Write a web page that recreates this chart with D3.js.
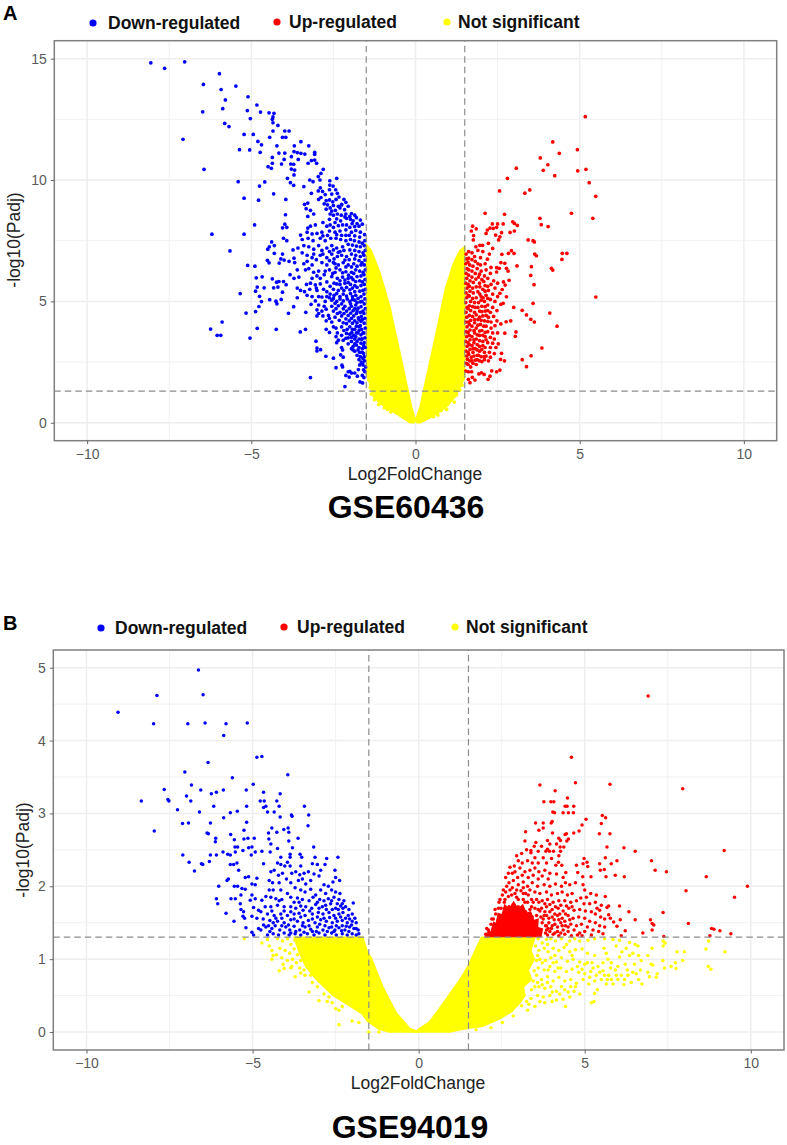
<!DOCTYPE html>
<html><head><meta charset="utf-8"><style>html,body{margin:0;background:#fff}svg{display:block}text{font-family:"Liberation Sans",Arial,sans-serif}</style>
<script src="https://cdnjs.cloudflare.com/ajax/libs/d3/7.8.5/d3.min.js"></script></head><body><svg id="c" width="787" height="1145"></svg>
<script>
const legendLabels=["Down-regulated","Up-regulated","Not significant"];
const xTicks=[-10,-5,0,5,10], xMinor=[-7.5,-2.5,2.5,7.5];
const yTicksA=[0,5,10,15], yMinorA=[2.5,7.5,12.5];
const yTicksB=[0,1,2,3,4,5], yMinorB=[.5,1.5,2.5,3.5,4.5];
const vCut=[-1.5,1.5], hCut=1.301;
// dense yellow masses, outlines
const yellowA1=[[-1.5,7.35],[-1.35,7.1],[-1.08,6.17],[-.78,4.77],[-.47,2.86],[-.12,.65],[0,.1],[-.05,0],[-.17,0],[-.57,.36],[-1.08,.8],[-1.29,1.1],[-1.48,2]];
const yellowA2=[[1.5,7.25],[1.35,7.1],[1.15,6.55],[.9,5.47],[.65,3.82],[.38,2.17],[.14,.66],[0,.1],[.05,0],[.15,0],[.44,.2],[.9,.6],[1.2,1.05],[1.5,1.85]];
const yellowB1=[[-1.68,1.3],[-1.53,1.08],[-1.43,1.02],[-1.08,.62],[-.67,.26],[-.27,.05],[0,0],[-.9,0],[-1.2,.04],[-1.55,.15],[-1.7,.25],[-2.08,.36],[-2.57,.5],[-3.08,.72],[-3.4,.9],[-3.6,1.1],[-3.75,1.3]];
const yellowB2=[[1.89,1.3],[1.48,.9],[1.23,.71],[.73,.39],[.33,.14],[0,.04],[-.1,0],[.93,0],[1.48,.05],[1.93,.08],[2.44,.18],[2.8,.28],[3.05,.4],[3.2,.5],[3.15,.62],[3.4,.72],[3.3,.85],[3.48,1],[3.38,1.12],[3.5,1.3]];
const redCoreB=[[1.98,1.3],[2.1,1.4],[2.16,1.38],[2.25,1.52],[2.32,1.5],[2.38,1.64],[2.5,1.62],[2.58,1.76],[2.72,1.7],[2.86,1.8],[3,1.7],[3.14,1.76],[3.25,1.64],[3.38,1.66],[3.48,1.54],[3.62,1.56],[3.6,1.44],[3.75,1.42],[3.7,1.3]];
const blueA=[[-8.06,14.83],[-7.64,14.6],[-7.03,14.87],[-5.97,14.38],[-6.46,13.94],[-5.47,13.87],[-5.92,13.73],[-5.79,13.3],[-5.1,13.43],[-6.48,12.81],[-5.87,12.94],[-5.12,12.86],[-4.83,13.09],[-4.72,12.8],[-4.46,12.77],[-4.31,12.75],[-4.34,12.6],[-4.36,12.5],[-4.34,12.36],[-5.03,12.53],[-5.81,12.33],[-5.68,12.2],[-4.19,12.25],[-4.34,12.02],[-3.98,12.02],[-3.85,12.02],[-7.08,11.68],[-5.22,11.88],[-4.94,11.88],[-4.44,11.76],[-4.05,11.76],[-3.95,11.76],[-4.8,11.59],[-4.69,11.45],[-3.49,11.58],[-3.69,11.41],[-3.25,11.41],[-4.22,11.41],[-5.36,11.25],[-5.05,11.24],[-4.73,11.14],[-4.16,11.11],[-3.98,11.11],[-3.7,11.17],[-3.6,11.13],[-3.49,11.1],[-3.37,11.07],[-3.07,11.14],[-3.07,11.06],[-4.36,10.93],[-3.78,10.96],[-4,10.85],[-3.57,10.85],[-3.17,10.8],[-3.07,10.82],[-3.27,10.69],[-3.01,10.69],[-4.36,10.69],[-4.08,10.66],[-3.8,10.66],[-3.71,10.65],[-4.49,10.55],[-4.39,10.48],[-2.81,10.44],[-6.44,10.44],[-3.78,10.45],[-3.68,10.41],[-3.7,10.21],[-2.88,10.27],[-2.96,10.14],[-3.9,10.07],[-3.22,10],[-3.12,9.93],[-2.91,10],[-2.61,9.97],[-2.4,10.07],[-5.4,9.93],[-4.59,9.92],[-4.75,9.75],[-3.81,9.89],[-3.71,9.78],[-3.4,9.73],[-2.61,9.79],[-2.51,9.75],
[-2.9,9.68],[-2.96,9.55],[-2.83,9.53],[-2.62,9.6],[-2.43,9.6],[-2.38,9.45],[-3.17,9.45],[-4.32,9.43],[-2.75,9.4],[-2.55,9.42],[-2.33,9.3],[-2.88,9.28],[-2.95,9.2],[-5.22,9.25],[-4.78,9.17],[-3.95,9.2],[-2.72,9.15],[-2.62,9.18],[-2.52,9.1],[-2.42,9.2],[-2.18,9.2],[-2.12,9.08],[-3.38,9],[-3.28,9.05],[-2.78,9.02],[-2.68,8.98],[-2.5,8.95],[-2.25,8.97],[-2.05,8.92],[-3.33,8.82],[-3.2,8.75],[-2.44,8.75],[-2.3,8.85],[-2.16,8.78],[-3.96,8.57],[-3.28,8.5],[-3.1,8.6],[-2.6,8.6],[-2.5,8.55],[-2.38,8.6],[-2.26,8.55],[-2.12,8.6],[-1.95,8.62],[-1.85,8.55],[-2.62,8.38],[-2.4,8.4],[-2.28,8.32],[-2.1,8.42],[-1.98,8.38],[-1.8,8.45],[-1.68,8.35],[-4.9,8.15],[-3.98,8.18],[-3.92,8.05],[-4.05,8.03],[-3.28,8.02],[-3.2,8.1],[-2.6,8.15],[-2.5,8.05],[-2.35,8.12],[-2.22,8.15],[-2.1,8.15],[-1.93,8.2],[-1.78,8.2],[-1.62,8.18],[-6.2,7.77],[-5.22,7.77],[-3.5,7.73],[-3.3,7.85],[-3.15,7.78],[-3,7.8],[-2.85,7.85],[-2.62,7.9],[-2.45,7.85],[-2.3,7.9],[-2.12,7.95],[-4.02,7.6],[-3.92,7.5],[-3.45,7.55],[-3.27,7.6],[-3.12,7.5],[-2.9,7.6],[-2.75,7.5],[-2.58,7.6],[-2.42,7.6],[-2.28,7.55],[-2.12,7.5],
[-4.38,7.45],[-4.3,7.3],[-4.45,7.25],[-4.5,7.15],[-3.73,7.12],[-3.58,7.2],[-3.45,7],[-3.25,7.25],[-3.1,7.15],[-2.95,7.3],[-2.7,7.2],[-2.55,7.3],[-2.4,7.2],[-2.22,7.25],[-5.65,7.08],[-4.05,6.95],[-4.3,6.98],[-3.3,6.9],[-3.15,6.8],[-2.9,6.9],[-2.7,6.8],[-2.55,6.95],[-2.38,6.85],[-2.25,6.9],[-2.1,6.85],[-1.95,6.95],[-5.11,6.48],[-4.89,6.45],[-4.51,6.69],[-4.46,6.59],[-4.1,6.75],[-4,6.7],[-4.15,6.58],[-3.85,6.65],[-3.7,6.78],[-3.68,6.6],[-3.4,6.55],[-3.3,6.65],[-3.15,6.5],[-3.02,6.72],[-2.85,6.6],[-2.7,6.5],[-2.5,6.6],[-2.35,6.5],[-2.2,6.6],[-2.05,6.5],[-1.88,6.55],[-3.6,6.3],[-3.35,6.3],[-3.25,6.35],[-2.95,6.25],[-2.62,6.3],[-2.45,6.2],[-2.3,6.3],[-2.12,6.22],[-1.95,6.2],[-1.82,6.3],[-4.85,5.97],[-4.67,6.01],[-4.36,5.93],[-3.82,6.1],[-3.7,5.95],[-3.55,6],[-3.15,5.95],[-3,6.05],[-2.78,6.1],[-2.55,6.02],[-2.38,5.95],[-2.22,6],[-2.05,5.95],[-1.9,5.9],[-4.23,5.79],[-4.16,5.82],[-4.02,5.82],[-3.94,5.69],[-3.32,5.7],[-3.2,5.75],[-3.05,5.68],[-2.9,5.72],[-2.7,5.8],[-2.48,5.75],[-2.3,5.7],[-2.15,5.75],[-1.98,5.7],[-1.85,5.65],[-4.82,5.59],[-4.61,5.56],[-4.32,5.56],[-4.19,5.59],[-3.6,5.55],[-3.5,5.45],[-3.38,5.4],[-3.22,5.5],[-3,5.45],[-2.8,5.5],[-2.7,5.4],[-2.5,5.5],[-2.35,5.45],[-2.18,5.45],[-2,5.48],[-1.85,5.4],[-4.87,5.42],[-4.05,5.38],[-5.34,5.32],[-3.3,5.25],[-3.15,5.2],[-2.95,5.2],[-2.7,5.2],[-2.48,5.25],[-2.3,5.2],[-2.1,5.22],[-1.92,5.2],[-4.75,5.21],[-4.44,5.07],[-4.09,5.08],[-3.6,5.15],[-2.75,5],[-2.55,5.05],[-2.4,5],[-2.2,5.02],[-2,5],[-1.85,5.05],[-4.69,4.99],[-4.25,5.01],[-4.22,4.9],[-3.18,4.88],[-2.95,4.85],[-2.78,4.8],[-2.55,4.8],[-2.35,4.82],[-2.15,4.8],[-1.95,4.8],[-1.82,4.85],[-4.77,4.79],[-3.71,4.78],[-3,4.65],[-2.85,4.6],[-2.72,4.68],[-2.5,4.6],[-2.3,4.55],[-2.1,4.6],[-1.9,4.62],[-4.87,4.58],[-5.16,4.52],[-3.87,4.51],[-3.34,4.55],[-3,4.4],[-2.82,4.4],[-2.65,4.42],[-2.45,4.35],[-2.25,4.4],[-2.05,4.42],[-1.88,4.4],[-1.8,4.5],
[-5.89,4.15],[-6.24,3.86],[-6.04,3.6],[-5.93,3.6],[-5.04,3.49],[-4.82,3.89],[-4.24,3.85],[-3.51,3.74],[-3.35,3.85],[-2.72,4.2],[-2.55,4.15],[-2.32,4.22],[-2.2,4.12],[-2.02,4.2],[-1.85,4.2],[-1.72,4.25],[-2.72,3.85],[-2.42,3.9],[-2.25,3.95],[-2.18,3.8],[-2,3.95],[-1.85,3.85],[-1.72,3.95],[-2.25,3.6],[-2.38,3.7],[-2,3.65],[-1.88,3.6],[-1.75,3.7],[-2.35,3.4],[-2.2,3.4],[-1.95,3.35],[-1.85,3.45],[-1.72,3.45],[-3.03,3.36],[-3,3.08],[-2.89,3.01],[-3,2.96],[-2.4,3.3],[-2.25,3.1],[-2.22,3],[-1.9,3.15],[-1.8,3.2],[-1.72,3.1],[-1.62,3.05],[-1.9,3],[-1.85,2.95],[-1.7,2.9],[-1.58,2.85],[-2.73,2.74],[-2.5,2.66],[-2.28,2.8],[-2.2,2.7],[-1.68,2.72],[-1.6,2.65],[-1.72,2.6],[-1.55,2.55],[-1.65,2.5],[-2.42,2.27],[-2.24,2.37],[-2.22,2.3],[-1.6,2.38],[-1.52,2.3],[-3.2,1.86],[-2.15,1.49],[-2.05,2.1],[-1.95,2.05],[-1.74,2.19],[-1.77,1.92],[-1.69,1.68],[-1.61,1.64],[-1.57,1.86],[-1.54,2.1],[-2,2.12],[-1.85,2.05],[-1.62,1.95],
[-1.55,7.75],[-1.68,7.85],[-1.82,7.92],[-1.95,7.85],[-2.02,7.72],[-1.7,7.65],[-1.85,7.7],[-1.98,7.55],[-1.72,7.45],[-1.86,7.5],[-2.05,7.35],[-1.68,7.25],[-1.8,7.28],[-1.92,7.32],[-2.18,7.1],[-1.72,7.05],[-1.85,7.1],[-2,7.12],[-2.35,7.02],[-1.68,6.85],[-1.82,6.9],[-2.02,6.72],[-1.72,6.68],[-1.85,6.75],[-2.15,6.7],[-2.48,6.75],[-2.62,6.68],[-1.66,6.5],[-1.78,6.45],[-1.95,6.42],[-2.12,6.42],[-2.42,6.38],[-1.7,6.25],[-1.88,6.15],[-2.04,6.08],[-2.22,6.18],[-2.52,6.15],[-1.66,6.05],[-1.78,6.02],[-1.95,5.98],[-2.15,5.88],[-2.3,5.85],[-1.7,5.85],[-1.82,5.82],[-2.05,5.78],[-2.4,5.72],[-2.6,5.62],[-1.66,5.65],[-1.78,5.58],[-1.92,5.55],[-2.1,5.58],[-2.25,5.55],[-1.7,5.42],[-1.82,5.25],[-1.98,5.32],[-2.2,5.3],[-2.4,5.32],[-2.6,5.3],[-1.66,5.2],[-1.75,5.12],[-1.92,5.08],[-2.08,5.1],[-2.3,5.1],[-2.5,5.12],[-1.68,4.98],[-1.78,4.95],[-1.98,4.9],[-2.25,4.9],[-2.45,4.92],[-1.66,4.78],[-1.75,4.72],[-1.85,4.7],[-2.02,4.7],[-2.2,4.7],[-2.42,4.7],[-1.68,4.55],[-1.78,4.6],[-1.97,4.52],[-2.18,4.5],[-2.38,4.5],[-1.65,4.38],[-1.74,4.32],[-1.95,4.3],[-2.12,4.28],[-1.66,4.18],[-1.78,4.12],[-1.92,4.1],[-2.1,4.08],[-1.68,4],[-1.8,3.98],[-1.92,3.85],[-2.08,3.85],[-1.64,3.85],[-1.72,3.8],[-1.8,3.7],[-1.94,3.72],[-2.1,3.68],[-1.66,3.62],[-1.82,3.55],[-1.95,3.52],[-2.12,3.48],[-1.64,3.45],[-1.78,3.35],[-1.66,3.28],[-2.05,3.25],[-1.85,3.25],[-1.95,3.05],[-1.58,3.18],[-1.75,3],[-1.62,2.9],[-1.78,2.78],[-1.56,2.72],[-1.62,2.45],[-1.7,2.38],[-1.58,2.18],[-2.02,1.88],[-2.12,1.95],[-2.25,9],[-2.35,8.92],[-2.6,8.85],[-2.72,8.8],[-2.55,8.72],[-2.15,8.48],[-2,8.5],[-1.9,8.32],[-1.72,8.1],[-1.85,8.08],[-2,8.05],[-2.45,8.25],[-2.7,8.1],[-2.82,8.25],[-3.05,8.15],[-2.4,7.75],[-2.25,7.72],[-2.12,7.72],[-2.82,7.7],[-2.68,7.72],[-3.4,7.3],[-2.85,7.1],[-2.62,7.05],[-2.5,7.12],[-2.3,7.05],[-3.1,6.95],[-2.82,6.95],[-2.45,6.55],[-2.75,6.25],[-3.1,6.2],[-2.9,5.95],[-3.02,5.55],[-2.62,5.15],[-2.85,5.18],[-3.05,5.02],[-2.95,4.5],[-2.62,4.3],[-2.5,3.95],[-2.62,3.72],[-2.05,3.5],[-2.42,3.55],
[-1.54,7.5],[-1.56,7.3],[-1.53,7.1],[-1.57,6.9],[-1.54,6.7],[-1.56,6.5],[-1.53,6.3],[-1.57,6.1],[-1.54,5.9],[-1.56,5.7],[-1.53,5.5],[-1.57,5.3],[-1.54,5.1],[-1.56,4.9],[-1.53,4.7],[-1.57,4.5],[-1.54,4.3],[-1.56,4.1],[-1.53,3.9],[-1.57,3.7],[-1.54,3.5],[-1.56,3.3],[-1.53,3.1],[-1.62,7.4],[-1.6,7],[-1.63,6.6],[-1.6,6.2],[-1.62,5.8],[-1.6,5.45],[-1.63,5],[-1.6,4.6],[-1.62,4.25],[-1.6,3.7],[-1.63,3.45]];
const redA=[[5.17,12.61],[4.18,11.57],[4.93,11.25],[4.38,11.1],[3.8,10.91],[4.03,10.63],[3.89,10.4],[3.07,10.49],[4.94,10.38],[5.19,10.44],[4.24,10.18],[2.8,10.07],[5.29,9.89],[2.56,9.55],[3.48,9.59],[3.33,9.46],[5.49,9.33],[2.12,8.63],[2.71,8.59],[4.75,8.63],[3.79,8.42],[5.4,8.42],[3.83,8.16],[4.04,8.08],[2.96,8.28],[3.01,8.21],[3.1,8.13],[2.67,8.19],[2.5,8.19],[2.34,8.19],[3.01,7.9],[2.88,7.84],[3.43,7.53],[3.58,7.5],[3.62,7.45],[2.62,7.83],[1.74,8.1],[1.85,7.99],[1.7,7.9],[1.77,7.71],[1.76,7.53],[2.19,7.94],[2.27,8.02],[2.37,8.01],[2.47,8.05],[2.15,7.8],[2.44,7.73],[2.53,7.53],[2.57,7.66],[2.22,7.39],[2.04,7.31],[1.96,7.31],[2.35,7.18],[1.84,7.25],[2.92,7.09],[2.83,6.98],[3,6.98],[2.63,6.94],[3.63,6.95],[3.68,6.88],[4.47,6.98],[4.61,6.98],[4.46,6.73],[2.25,6.95],[2.19,6.74],[2.6,6.6],[2.72,6.57],[3.09,6.46],[3.53,6.43],[2.77,6.36],[2.82,6.25],[2.47,6.39],[2.55,6.36],[2.47,6.21],[4.14,6.36],[4.18,6.29],[3.51,6.07],[2.85,5.87],[3.61,5.69],[2.68,5.8],[2.73,5.67],[2.64,5.49],[2.57,5.33],[2.77,5.19],[5.49,5.18],[3.58,4.92],[2.67,4.92],[2.6,4.88],[2.99,4.75],[3.25,4.63],[3.38,4.44],[4.09,4.52],[3.51,4.26],[3.62,4.15],[2.9,4.2],[2.76,4.16],[2.6,4.07],[4.31,3.98],[3.06,3.74],[2.72,3.69],[3.04,3.56],[3.85,3.08],[3.52,2.76],[3.25,2.6],[2.71,2.55],[2.59,2.61],[2.62,2.86],[3.38,2.31],[2.57,2.17],[2.47,2.1],[2.32,2.14],[2.27,1.92],[2.21,1.79],[2.01,2.06],[1.93,2.01],[2.09,1.99],[1.71,2.1],[1.61,2.1],[1.53,2.13],[1.61,1.79],[1.66,1.65],[1.81,1.76],[1.73,1.87],
[1.9,7.1],[2.05,7.05],[1.8,6.85],[1.98,6.8],[2.12,6.55],[1.9,6.55],[2.3,6.4],[2.15,6.3],[2,6.25],[1.88,6.35],[2.28,6.15],[2.1,6.05],[1.92,6],[1.82,6.15],[2.02,5.9],[2.2,5.95],[2.38,5.85],[2.5,5.75],[1.95,5.75],[2.12,5.65],[2.3,5.7],[1.85,5.6],[2.42,5.55],[2.22,5.45],[2.05,5.5],[1.9,5.4],[2.35,5.3],[2.5,5.2],[2.15,5.25],[2,5.2],[1.85,5.15],[2.28,5.08],[2.42,5],[2.1,5],[1.92,4.95],[2.02,4.8],[2.2,4.85],[2.35,4.75],[2.48,4.62],[1.82,4.75],[1.95,4.6],[2.12,4.6],[2.28,4.55],[1.85,4.45],[2.05,4.4],[2.22,4.35],[2.38,4.38],[2.48,4.2],[1.9,4.25],[2.1,4.2],[2.3,4.15],[1.8,4.12],[1.98,4.05],[2.15,3.98],[2.42,4],[2.3,3.9],[1.85,3.9],[2.02,3.8],[2.2,3.75],[2.35,3.7],[2.5,3.7],[1.8,3.7],[1.95,3.6],[2.12,3.55],[2.28,3.52],[2.4,3.45],[1.85,3.45],[2.05,3.35],[2.2,3.3],[2.35,3.28],[1.78,3.3],[1.95,3.15],[2.12,3.1],[2.28,3.1],[2.45,3.1],[2.52,3.25],[1.82,3.05],[1.95,2.95],[2.1,2.9],[2.25,2.9],[2.4,2.85],[1.75,2.9],[1.88,2.78],[2,2.72],[2.15,2.75],[2.28,2.7],[1.7,2.7],[1.82,2.58],[1.95,2.55],[2.1,2.6],[2.22,2.55],[1.65,2.55],[1.75,2.45],[1.55,2.45],[1.68,2.3],
[1.62,7.05],[1.72,7],[1.62,6.78],[1.72,6.72],[1.82,6.65],[1.65,6.5],[1.75,6.45],[1.98,6.5],[1.62,6.3],[1.72,6.25],[1.95,6.12],[1.62,6.08],[1.72,6],[1.84,5.92],[1.66,5.85],[1.76,5.78],[2.08,5.82],[1.64,5.62],[1.74,5.55],[1.96,5.6],[2.12,5.42],[1.66,5.42],[1.76,5.35],[1.96,5.3],[2.2,5.62],[1.64,5.22],[1.74,5.12],[2.06,5.15],[1.68,5],[1.8,4.95],[2,5.05],[2.2,5.12],[1.64,4.82],[1.74,4.78],[1.9,4.75],[2.12,4.78],[1.68,4.62],[1.8,4.55],[2.02,4.58],[2.2,4.62],[1.64,4.42],[1.74,4.38],[1.95,4.35],[2.15,4.42],[1.68,4.22],[1.8,4.25],[2,4.22],[2.2,4.18],[1.64,4.05],[1.72,3.98],[1.9,4.02],[2.08,3.98],[1.66,3.82],[1.78,3.8],[1.95,3.78],[2.12,3.72],[1.64,3.6],[1.72,3.55],[1.88,3.62],[2.05,3.6],[1.66,3.42],[1.78,3.42],[1.95,3.38],[2.15,3.42],[1.64,3.22],[1.72,3.18],[1.88,3.22],[2.05,3.18],[1.66,3.02],[1.76,3.05],[1.88,3],[2.02,3.02],[1.62,2.82],[1.78,2.75],[1.92,2.78],[2.1,2.72],[1.58,2.62],[1.72,2.55],[1.88,2.6],[2.02,2.52],[1.6,2.4],[1.85,2.4],
[1.54,6.95],[1.56,6.75],[1.53,6.55],[1.57,6.35],[1.54,6.15],[1.56,5.95],[1.53,5.75],[1.57,5.55],[1.54,5.35],[1.56,5.15],[1.53,4.95],[1.57,4.75],[1.54,4.55],[1.56,4.35],[1.53,4.15],[1.57,3.95],[1.54,3.75],[1.56,3.55],[1.53,3.35],[1.57,3.15],[1.54,2.95],[1.56,2.75],[1.6,6.62],[1.6,5.7],[1.61,5.25],[1.6,4.7],[1.61,4.15],[1.6,3.72],[1.6,3.3],[1.6,2.9]];
const yellowScatterA=[[-1.42,1.75],[-1.38,1.45],[-1.35,1.18],[-1.25,.95],[-1.12,.75],[-1.05,.8],[-.95,.62],[-.85,.55],[-.75,.45],[-1.3,1.28],[-1.2,1.1],[1.42,1.55],[1.35,1.35],[1.25,1.15],[1.1,1],[1.18,.85],[.98,.75],[.95,.55],[.78,.5],[.68,.32],[.55,.25],[-1.45,2.3],[-1.46,2.9],[1.45,2.1]];
const blueB=[[-6.63,4.97],[-7.88,4.62],[-6.49,4.63],[-9.05,4.39],[-7.98,4.23],[-6.95,4.23],[-6.43,4.24],[-5.8,4.23],[-5.16,4.24],[-5.87,4.07],[-4.87,3.77],[-4.72,3.78],[-6.34,3.7],[-7.04,3.57],[-3.94,3.53],[-5.61,3.49],[-4.98,3.4],[-6.84,3.39],[-7.66,3.33],[-6.56,3.32],[-5.88,3.32],[-5.19,3.32],[-6.24,3.27],[-6.09,3.29],[-4.67,3.29],[-4.17,3.27],[-6.99,3.24],[-8.35,3.17],[-7.55,3.19],[-7.52,3.17],[-6.86,3.17],[-4.77,3.17],[-4.65,3.17],[-4.27,3.17],[-6.17,3.1],[-5.18,3.1],[-4.6,3.1],[-4.67,3.08],[-4.2,3.1],[-3.44,3.1],[-7.26,3.05],[-6.6,3.02],[-5.67,3.01],[-5.46,3.03],[-4.55,3.02],[-4.35,3.02],[-3.31,2.98],[-3.83,2.98],[-3.81,2.96],[-5.87,2.94],[-4.17,2.95],[-6.27,2.87],[-5.18,2.88],[-7.11,2.86],[-6.93,2.87],[-3.33,2.83],[-3.93,2.8],[-4.42,2.8],[-4.06,2.78],[-5.26,2.77],[-7.96,2.76],[-3.91,2.74],[-4.52,2.73],[-4.27,2.74],[-6.37,2.73],[-6.33,2.72],[-5.66,2.71],[-6.11,2.66],[-6.12,2.61],[-5.55,2.64],[-5.26,2.65],[-5.14,2.66],[-4.95,2.66],[-4.51,2.65],[-3.63,2.66],[-3.91,2.62],[-4.45,2.58],[-5.53,2.54],[-5.45,2.54],[-5.12,2.53],[-5.02,2.54],[-3.8,2.53],[-4.25,2.52],[-3.16,2.54],[-5.29,2.49],[-5.89,2.47],[-5.52,2.47],[-4.92,2.47],[-4.72,2.48],[-4.47,2.47],[-7.1,2.43],[-6.27,2.43],[-6.09,2.43],[-5.75,2.44],[-5.67,2.43],[-5.04,2.43],[-3.87,2.44],[-3.57,2.44],[-4.15,2.4],[-3.87,2.4],[-3.52,2.4],[-3.12,2.4],[-2.77,2.38],[-2.43,2.4],
[-6.91,2.33],[-6.75,2.21],[-6.54,2.31],[-6.5,2.3],[-6.3,2.34],[-5.67,2.3],[-5.57,2.3],[-5.47,2.32],[-5.42,2.22],[-6.02,2],[-5.73,2.1],[-5.77,2.08],[-5.55,2],[-5.45,2],[-5.22,2.12],[-5.12,2.13],[-4.87,2.11],[-5.02,2.03],[-4.92,2.02],[-4.67,2.31],[-5.32,1.97],[-5.22,1.96],[-6.09,1.83],[-6.05,1.76],[-5.8,1.63],[-5.65,1.83],[-5.52,1.83],[-5.35,1.88],[-5.37,1.76],[-5.35,1.68],[-5.27,1.65],[-5.56,1.52],[-5.29,1.59],[-5.24,1.56],[-5.2,1.43],[-5.02,1.88],[-5.07,1.81],[-4.92,1.83],[-4.72,1.81],[-4.97,1.71],[-4.82,1.67],[-5.02,1.59],[-4.87,1.56],[-5.02,1.37],[-4.97,1.33],[-4.82,1.42],[-4.67,1.47],
[-4.25,2.32],[-4.15,2.3],[-4.03,2.28],[-3.95,2.33],[-3.87,2.28],[-3.55,2.28],[-3.2,2.31],[-3.05,2.3],[-2.95,2.22],[-2.82,2.3],[-2.52,2.22],[-4.45,2.2],[-4.35,2.22],[-4.22,2.15],[-4.1,2.18],[-3.82,2.18],[-3.7,2.2],[-3.58,2.16],[-3.45,2.18],[-3.32,2.2],[-3.15,2.17],[-3,2.14],[-2.5,2.12],[-2.38,2.08],[-4.5,2.08],[-4.4,2.05],[-4.2,2.05],[-3.98,2.1],[-3.85,2.05],[-3.62,2.08],[-3.5,2.1],[-3.4,2.03],[-3.25,2.08],[-2.85,2.02],[-2.72,2],[-2.58,2.06],[-4.5,1.95],[-4.38,1.95],[-4.15,1.95],[-3.95,1.9],[-3.72,1.98],[-3.55,1.95],[-3.42,1.92],[-3.25,1.96],[-3.1,1.88],[-2.95,1.95],[-2.8,1.9],[-2.62,1.95],[-2.5,1.92],[-2.37,1.9],[-4.6,1.86],[-4.45,1.85],[-4.3,1.83],[-4.12,1.82],[-3.85,1.85],[-3.65,1.84],[-3.5,1.82],[-3.3,1.8],[-3.18,1.85],[-2.98,1.82],[-2.72,1.83],[-2.55,1.85],[-2.4,1.82],[-2.25,1.8],[-1.97,1.77],[-2.2,1.72],[-2.35,1.73],[-2.5,1.7],[-2.65,1.76],[-2.8,1.74],[-2.9,1.72],[-3.1,1.75],[-3.22,1.7],[-3.4,1.72],[-3.55,1.73],[-3.7,1.7],[-3.85,1.72],[-4.05,1.72],[-4.25,1.74],[-4.45,1.72],[-4.62,1.72],[-4.75,1.65],[-4.55,1.62],[-4.35,1.6],[-4.15,1.62],[-3.95,1.6],[-3.75,1.62],[-3.6,1.63],[-3.42,1.6],[-3.2,1.62],[-3.02,1.64],[-2.88,1.62],[-2.7,1.64],[-2.55,1.6],[-2.4,1.62],[-2.28,1.64],[-2.12,1.6],[-2,1.62],[-4.68,1.55],[-4.48,1.53],[-4.25,1.52],[-4.05,1.5],[-3.85,1.54],[-3.65,1.52],[-3.48,1.5],[-3.32,1.53],[-3.12,1.5],[-2.95,1.54],[-2.78,1.52],[-2.6,1.5],[-2.45,1.52],[-2.3,1.53],[-2.15,1.5],[-2,1.52],[-1.88,1.5],[-4.75,1.4],[-4.6,1.44],[-4.42,1.42],[-4.32,1.46],[-4.18,1.4],[-4,1.44],[-3.88,1.4],[-3.75,1.45],[-3.58,1.4],[-3.42,1.44],[-3.25,1.41],[-3.05,1.44],[-2.88,1.4],[-2.7,1.43],[-2.52,1.4],[-2.4,1.43],[-2.22,1.4],[-2.08,1.44],[-1.95,1.42],[-1.82,1.4],[-4.55,1.33],[-4.38,1.35],[-4.22,1.33],[-4.05,1.36],[-3.9,1.33],[-3.72,1.35],[-3.55,1.33],[-3.35,1.35],[-3.15,1.33],[-3,1.36],[-2.82,1.33],[-2.62,1.36],[-2.48,1.33],[-2.3,1.35],[-2.15,1.33],[-2,1.35],[-1.88,1.33],[-1.8,1.35],
[-4.52,1.46],[-4.38,1.5],[-4.12,1.46],[-3.92,1.47],[-3.7,1.38],[-3.5,1.46],[-3.3,1.46],[-3.2,1.38],[-2.98,1.48],[-2.82,1.46],[-2.62,1.44],[-2.48,1.46],[-2.3,1.46],[-2.18,1.45],[-2.02,1.47],[-1.88,1.42],[-4.48,1.38],[-3.85,1.36],[-3.45,1.37],[-3.08,1.38],[-2.75,1.38],[-2.55,1.38],[-2.32,1.39],[-2.1,1.38],[-4.3,1.56],[-4.12,1.56],[-3.75,1.55],[-3.55,1.58],[-3.2,1.55],[-3.05,1.58],[-2.85,1.56],[-2.68,1.57],[-2.5,1.56],[-2.35,1.58],[-2.2,1.56],[-2.08,1.55],[-1.92,1.56],[-4.42,1.66],[-4.05,1.66],[-3.85,1.65],[-3.48,1.67],[-3.28,1.66],[-3,1.7],[-2.78,1.68],[-2.6,1.68],[-2.42,1.68],[-2.28,1.7],[-2.1,1.68],[-4.2,1.8],[-3.75,1.78],[-3.6,1.78],[-3.05,1.78],[-2.85,1.8],[-2.62,1.8],[-2.45,1.76],[-2.3,1.76]];
const redB=[[6.91,4.61],[4.6,3.77],[4.72,3.42],[3.65,3.39],[5.76,3.4],[7.95,3.34],[4.11,3.31],[4.48,3.21],[3.77,3.16],[3.98,3.16],[4.07,3.16],[4.41,3.1],[4.47,3.1],[4.67,3.1],[4.04,3.02],[4.09,3.01],[4.35,3.01],[4.51,3.01],[4.66,3.01],[5.53,2.97],[5.63,2.94],[5.04,2.92],[3.52,2.87],[3.75,2.87],[3.99,2.87],[4.02,2.89],[4.92,2.84],[5.5,2.86],[3.75,2.8],[3.62,2.77],[3.22,2.75],[4.83,2.76],[4.67,2.73],[4.03,2.73],[4.41,2.71],[4.45,2.72],[5.44,2.72],[5.76,2.72],[4.22,2.66],[4.51,2.65],[4.46,2.62],[4.27,2.63],[3.88,2.63],[3.2,2.62],[3.53,2.6],[4.37,2.54],[4.26,2.54],[5.67,2.54],[6.18,2.53],[3.88,2.51],[6.52,2.48],[9.2,2.49],[3.38,2.49],[3.38,2.46],[3.6,2.48],[3.83,2.48],[3.94,2.48],[4.06,2.48],[4.27,2.48],[3.5,2.39],[3.75,2.39],[4.98,2.38],[5.62,2.39],[5.97,2.35],[7.01,2.35],[4.75,2.29],[4.95,2.31],[5.07,2.33],[5.45,2.31],[5.8,2.31],[5.09,2.27],[4.21,2.33],[4.31,2.29],[4.13,2.29],[2.75,2.26],[7.12,2.22],[7.46,2.2],[5.47,2.22],[5.59,2.23],[4.43,2.19],[4.79,2.19],[8.66,2.13],[5.64,2.13],[5.92,2.15],[6.19,2.13],[5.19,2.13],[4.94,2.13],[9.9,2],[8.05,1.94],[9.51,1.85],[7.36,1.64],[5.62,1.86],[6.05,1.73],[6.33,1.65],[8.12,1.49],[6.98,1.54],[7.03,1.49],[7.08,1.47],[7.03,1.4],[6.75,1.36],[8.82,1.42],[8.89,1.41],[9.07,1.39],[9.4,1.35],[8.77,1.32],[7.38,1.31],[6.52,1.54],[6.07,1.54],[5.67,1.71],[5.72,1.73],[5.72,1.61],[5.77,1.56],[5.87,1.51],[5.97,1.45],[6.22,1.39],[6.1,1.32],[5.37,1.7],[5.45,1.67],
[2.9,2.2],[3.05,2.25],[3.2,2.2],[3.35,2.22],[3.5,2.25],[3.62,2.2],[3.8,2.22],[3.95,2.18],[4.15,2.17],[4.35,2.12],[2.98,2.12],[3.12,2.15],[3.3,2.12],[3.45,2.15],[3.6,2.1],[3.72,2.14],[3.9,2.1],[4.72,2.05],[4.95,2.02],[2.65,2],[2.72,2.05],[2.85,2.08],[3,2.02],[3.15,2.06],[3.28,2],[3.42,2.05],[3.58,2],[3.78,2.02],[3.95,2],[4.12,2.03],[4.3,2],[4.42,2.05],[4.55,2.02],[5,1.95],[5.18,1.9],[5.35,1.88],[2.62,1.92],[2.75,1.95],[2.9,1.9],[3.08,1.94],[3.22,1.9],[3.35,1.95],[3.5,1.92],[3.65,1.9],[3.85,1.92],[4,1.88],[4.18,1.9],[4.32,1.92],[4.48,1.88],[4.62,1.9],[4.88,1.84],[5.05,1.85],[3.4,1.82],[3.55,1.82],[3.72,1.8],[3.88,1.82],[4.05,1.78],[4.22,1.8],[4.4,1.8],[4.58,1.78],[4.75,1.8],[4.98,1.76],[5.15,1.76],[5.32,1.78],[5.5,1.74],[3.7,1.7],[3.85,1.72],[4.02,1.68],[4.2,1.7],[4.35,1.66],[4.52,1.7],[4.68,1.67],[4.85,1.68],[5.02,1.66],[5.2,1.65],[5.32,1.62],[5.48,1.58],[5.6,1.55],[3.85,1.6],[4.02,1.58],[4.18,1.6],[4.32,1.56],[4.5,1.6],[4.65,1.56],[4.82,1.58],[5,1.56],[5.15,1.52],[5.32,1.5],[5.45,1.46],[5.6,1.44],[3.92,1.5],[4.1,1.48],[4.28,1.5],[4.42,1.46],[4.58,1.48],[4.75,1.46],[4.9,1.48],[5.08,1.44],[5.25,1.4],[5.42,1.38],[5.55,1.35],[3.85,1.4],[4,1.42],[4.18,1.38],[4.35,1.4],[4.5,1.38],[4.68,1.4],[4.85,1.36],[5,1.38],[5.2,1.33],[3.88,1.33],[4.05,1.34],[4.22,1.32],[4.4,1.34],[4.6,1.32],[4.78,1.33],[4.92,1.32],
[2.02,1.34],[2.1,1.4],[2.18,1.48],[2.25,1.55],[2.32,1.62],[2.4,1.7],[2.45,1.82],[2.52,1.88],[2.58,1.78],[2.7,1.86],[2.95,1.85],[3.15,1.82],[3.28,1.78],[2.62,2.12],[2.7,2.18],[2.82,2.18],
[2.28,1.48],[2.48,1.7],[2.6,1.7],[2.72,1.72],[2.85,1.75],[3,1.72],[3.12,1.7],[3.22,1.65],[3.35,1.68],[3.5,1.7],[3.42,1.58],[3.55,1.6],[3.68,1.58],[3.72,1.5],[3.82,1.46],[2.55,1.95],[2.82,1.98],[2.95,1.95],[3.15,1.98],[3.3,1.88],[2.88,2.28],[3,2.35],[3.12,2.32],[3.28,2.35],[3.42,2.32],[3.6,2.32],[3.85,2.32],[4,2.38],[4.22,2.42],[3.1,2.45],[3.25,2.5],[3.48,2.55],[3.7,2.55],[3.95,2.58],[4.15,2.58],[2.95,2.42],[3.15,1.9],[3.45,1.78],[3.62,1.78],[3.8,1.76],[3.95,1.75],[4.12,1.72],[4.28,1.74],[4.45,1.73],[4.62,1.72],[3.65,1.66],[3.8,1.65],[3.95,1.65],[4.1,1.62],[4.25,1.62],[4.42,1.62],[3.75,1.55],[3.92,1.56],[4.08,1.54],[4.22,1.54],[4.4,1.52],[4.55,1.54],[3.85,1.46],[4.02,1.46],[4.18,1.44],[4.32,1.46],[4.5,1.44],[3.95,1.38],[4.1,1.36],[4.28,1.36],[2.05,1.42],[2.2,1.55],[2.3,1.68],[2.42,1.78],[2.6,1.82],[2.8,1.88],[3,1.82],[3.2,1.78],[3.4,1.72],[3.6,1.68],[3.78,1.6],[3.9,1.42],[3.82,1.36]];
const yellowScatterB=[[-5.25,1.28],[-4.72,1.22],[-4.55,1.27],[-4.5,1.18],[-4.42,1.12],[-4.38,1.05],[-4.42,1],[-4.28,1.06],[-4.2,.84],[-4.05,.87],[-4.08,.93],[-3.85,.88],[-3.72,.76],[-3.55,.81],[-3.3,.55],[-3,.43],[-2.75,.42],[-2.4,.3],[-2.4,.1],[-2.5,.32],[-2,.15],[-1.8,.13],[-1.5,0],[-1.2,0],
[-4.25,1.28],[-4.1,1.25],[-3.95,1.28],[-3.85,1.2],[-3.72,1.26],[-4.18,1.15],[-4.02,1.12],[-3.88,1.08],[-3.75,1.14],[-3.65,1.06],[-4.12,1.02],[-3.95,.98],[-3.8,1],[-3.68,.95],[-3.55,.98],[-3.82,.9],[-3.58,.88],[-3.45,.85],[-3.42,.78],[-3.25,.78],[-3.2,.68],[-3.05,.62],[-2.85,.52],[-2.7,.48],[-2.6,.4],[-2.3,.35],
[3.6,1.28],[3.72,1.22],[3.85,1.27],[3.98,1.28],[4.12,1.25],[4.3,1.28],[4.55,1.25],[4.7,1.28],[4.85,1.25],[5.1,1.26],[5.3,1.28],[5.6,1.28],[5.85,1.27],[6.05,1.26],[6.35,1.23],[6.52,1.2],[6.6,1.18],[7.36,1.25],[7.36,1.18],[3.62,1.12],[3.78,1.15],[3.9,1.1],[4.05,1.15],[4.22,1.12],[4.38,1.16],[4.55,1.1],[4.72,1.13],[4.92,1.14],[5.08,1.08],[5.3,1.05],[5.58,1.15],[5.65,1.08],[5.7,1],[6.12,1.1],[6.05,1.03],[6.35,1.05],[6.62,1.05],[6.7,.98],[7.03,1.15],[7.35,.98],[7,.93],[7.78,1.1],[8,1.1],[8.65,1.14],[9.22,1.1],[8.73,1.25],[7.42,1.22],[3.65,1],[3.82,.98],[3.98,1.02],[4.15,.96],[4.3,1.02],[4.48,.97],[4.65,1],[4.85,.96],[5,.93],[5.22,.95],[5.4,.9],[5.55,.95],[5.8,.95],[6,.9],[6.22,.93],[6.5,.93],[6.68,.85],[7.05,.92],[7.6,.9],[7.73,.95],[7.95,.98],[8.8,.86],[7.75,.87],[8.72,.9],[3.6,.88],[3.78,.85],[3.95,.9],[4.1,.83],[4.28,.88],[4.45,.83],[4.62,.86],[4.82,.82],[5,.8],[5.18,.83],[5.35,.78],[5.55,.84],[5.72,.78],[5.92,.85],[6.1,.78],[6.3,.78],[6.45,.82],[6.9,.82],[6.95,.76],[7.18,.8],[7.15,.75],[7.4,.88],[3.55,.78],[3.7,.72],[3.88,.76],[4.05,.7],[4.22,.75],[4.4,.7],[4.58,.72],[4.75,.67],[4.95,.72],[5.12,.66],[5.3,.7],[5.5,.72],[5.68,.72],[5.85,.66],[6,.72],[6.18,.65],[6.4,.68],[6.62,.72],[6.72,.66],[5.38,.58],[5.3,.53],[5.2,.4],[5.28,.42],[3.62,.62],[3.8,.6],[3.98,.62],[4.15,.56],[4.3,.62],[4.5,.55],[4.68,.56],[4.85,.52],[3.58,.5],[3.75,.48],[3.95,.5],[4.15,.44],[4.35,.45],[4.42,.35],[3.5,.35],[3.28,.3],[2.85,.22],[2.52,.13],[2.18,.06],[1.73,.03],
[3.52,1.18],[3.58,1.05],[3.55,.98],[3.48,.84],[3.45,.7],[3.58,.68],[3.4,.58],[3.5,.62],[3.38,.46],[3.32,.38],[3.25,.42],[3.1,.36],[3.72,.95],[3.9,.85],[4.05,.95],[4.2,.88],[3.72,.65],[3.88,.68],[4.02,.55],[4.25,.52],[4.4,.58],[4.58,.62],[4.72,.62],[4.55,.48],[4.02,.42],[3.8,.4],[3.65,.42],[3.88,1.2],[4.1,1.05],[4.45,1.2],[4.62,1.05],[4.78,.9],[4.92,.86],[5.08,.95],[5.25,.88],[5.15,.75],[5.45,.82],[5.6,.78],[5.78,.88],[5.65,.66],[5.8,.72],[5.95,.78],[6.2,.72],[6.28,.85],[6.55,.8],[5.95,1.18],[6.25,1.15],[6.9,1.05],[6.45,1.08]];

const svg=d3.select("#c");
function panel(o){
  const x=d3.scaleLinear([-11,11],o.xr), y=d3.scaleLinear(o.yd,o.yr);
  const g=svg.append("g");
  const line=d3.line().x(d=>x(d[0])).y(d=>y(d[1]));
  const grid=(vals,w)=>{
    g.selectAll(null).data(vals).join("line").attr("x1",d=>x(d)).attr("x2",d=>x(d)).attr("y1",o.yr[0]).attr("y2",o.yr[1]).attr("stroke","#eeeeee").attr("stroke-width",w);
  };
  const gridH=(vals,w)=>{
    g.selectAll(null).data(vals).join("line").attr("y1",d=>y(d)).attr("y2",d=>y(d)).attr("x1",o.xr[0]).attr("x2",o.xr[1]).attr("stroke","#eeeeee").attr("stroke-width",w);
  };
  grid(xMinor,.8);gridH(o.yMinor,.8);grid(xTicks,1.5);gridH(o.yTicks,1.5);
  o.yellow.forEach(p=>g.append("path").attr("d",line(p)+"Z").attr("fill","#ffff00").attr("stroke","#ffff00").attr("stroke-width",1.5));
  const dots=(data,c,r)=>g.selectAll(null).data(data).join("circle").attr("cx",d=>x(d[0])).attr("cy",d=>y(d[1])).attr("r",r).attr("fill",c);
  dots(o.scatterY,"#ffff00",o.r);
  o.core.forEach(p=>g.append("path").attr("d",line(p[0])+"Z").attr("fill",p[1]));
  dots(o.red,"#ff0000",o.r);dots(o.blue,"#0000ff",o.r);
  const dash=g.append("g").attr("stroke","#8c8c8c").attr("stroke-width",1.2).attr("stroke-dasharray","6.5,4").attr("fill","none");
  vCut.forEach(v=>dash.append("line").attr("x1",x(v)).attr("x2",x(v)).attr("y1",o.yr[0]).attr("y2",o.yr[1]));
  dash.append("line").attr("x1",o.xr[0]).attr("x2",o.xr[1]).attr("y1",y(hCut)).attr("y2",y(hCut));
  g.append("rect").attr("x",o.xr[0]).attr("y",o.yr[1]).attr("width",o.xr[1]-o.xr[0]).attr("height",o.yr[0]-o.yr[1]).attr("fill","none").attr("stroke","#808080").attr("stroke-width",1.5);
  const ax=g.append("g").attr("transform",`translate(0,${o.yr[0]})`).call(d3.axisBottom(x).tickValues(xTicks).tickSize(3.5).tickPadding(5).tickFormat(d3.format("d")));
  const ay=g.append("g").attr("transform",`translate(${o.xr[0]},0)`).call(d3.axisLeft(y).tickValues(o.yTicks).tickSize(3.5).tickPadding(4).tickFormat(d3.format("d")));
  [ax,ay].forEach(a=>{a.select(".domain").remove();a.selectAll("line").attr("stroke","#666");a.selectAll("text").attr("fill","#5a5a5a").style("font-size","14px").style("font-family",'"Liberation Sans",sans-serif');});
  g.append("text").attr("x",o.xl[0]).attr("y",o.xl[1]).attr("text-anchor","middle").attr("fill","#222").attr("font-size",17.5).text("Log2FoldChange");
  g.append("text").attr("transform",`translate(${o.yl[0]},${o.yl[1]}) rotate(-90)`).attr("text-anchor","middle").attr("fill","#222").attr("font-size",17.5).text("-log10(Padj)");
  g.append("text").attr("x",o.title[0]).attr("y",o.title[1]).attr("text-anchor","middle").attr("font-weight","bold").attr("font-size",32).attr("fill","#000").text(o.name);
  g.append("text").attr("x",3).attr("y",o.tag[1]).attr("font-weight","bold").attr("font-size",20).attr("fill","#000").text(o.tag[0]);
  ["#0000ff","#ff0000","#ffff00"].forEach((c,i)=>{
    const l=o.legend[i];
    g.append("circle").attr("cx",l[0]).attr("cy",l[1]).attr("r",3.6).attr("fill",c);
    g.append("text").attr("x",l[2]).attr("y",l[1]+6).attr("font-weight","bold").attr("font-size",17.5).attr("fill","#111").text(legendLabels[i]);
  });
}
panel({name:"GSE60436",xr:[54.3,776.7],yr:[440.7,40.7],yd:[-.74,15.74],yTicks:yTicksA,yMinor:yMinorA,r:1.85,
  yellow:[yellowA1,yellowA2],core:[],scatterY:yellowScatterA,red:redA,blue:blueA,
  xl:[415,480],yl:[20,240],title:[406,518],tag:["A",20],legend:[[93,23,108],[277,22,289],[447,22,458]]});
panel({name:"GSE94019",xr:[53.3,784],yr:[1050,650],yd:[-.247,5.243],yTicks:yTicksB,yMinor:yMinorB,r:1.75,
  yellow:[yellowB1,yellowB2],core:[[redCoreB,"#ff0000"]],scatterY:yellowScatterB,red:redB,blue:blueB,
  xl:[418,1089],yl:[29,850],title:[410,1138],tag:["B",630],legend:[[101,628,115],[284,627,297],[455,627,466]]});
</script></body></html>
